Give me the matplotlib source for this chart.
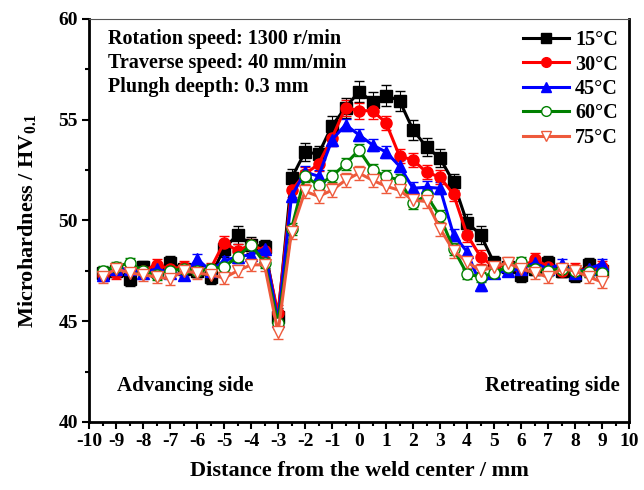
import matplotlib
matplotlib.use("Agg")
import matplotlib.pyplot as plt
from matplotlib.ticker import MultipleLocator
from matplotlib.lines import Line2D

plt.rcParams['font.family'] = ['Liberation Serif', 'DejaVu Serif']
plt.rcParams['font.weight'] = 'bold'
plt.rcParams['axes.unicode_minus'] = False
plt.rcParams['mathtext.fontset'] = 'custom'
plt.rcParams['mathtext.rm'] = 'Liberation Serif:bold'
plt.rcParams['mathtext.bf'] = 'Liberation Serif:bold'

distance = [-9.5, -9, -8.5, -8, -7.5, -7, -6.5, -6, -5.5, -5, -4.5, -4, -3.5, -3,
            -2.5, -2, -1.5, -1, -0.5, 0, 0.5, 1, 1.5, 2, 2.5, 3, 3.5, 4, 4.5,
            5, 5.5, 6, 6.5, 7, 7.5, 8, 8.5, 9]

hv_15 = [47.4, 47.5, 47.1, 47.7, 47.5, 47.9, 47.6, 47.5, 47.2, 48.6, 49.3, 48.8, 48.7, 45.2,
         52.1, 53.4, 53.3, 54.7, 55.6, 56.4, 55.9, 56.2, 55.95, 54.5, 53.65, 53.1, 51.9, 49.9, 49.3,
         47.9, 47.7, 47.3, 47.6, 47.9, 47.5, 47.3, 47.8, 47.5]
hv_30 = [47.3, 47.4, 47.6, 47.5, 47.8, 47.6, 47.7, 47.5, 47.6, 48.9, 48.5, 48.8, 48.5, 45.4,
         51.5, 52.3, 52.8, 54.1, 55.6, 55.45, 55.45, 54.85, 53.2, 53.0, 52.4, 52.15, 51.3, 49.3, 48.2,
         47.7, 47.8, 47.6, 48.1, 47.7, 47.5, 47.6, 47.5, 47.7]
hv_45 = [47.3, 47.6, 47.6, 47.4, 47.6, 47.4, 47.3, 48.1, 47.5, 48.0, 48.2, 48.3, 48.6, 45.0,
         51.2, 52.4, 52.2, 54.0, 54.75, 54.25, 53.75, 53.4, 52.7, 51.6, 51.65, 51.6, 49.3, 48.45, 46.8,
         47.4, 47.5, 47.6, 47.9, 47.6, 47.85, 47.4, 47.6, 47.85]
hv_60 = [47.5, 47.7, 47.9, 47.5, 47.3, 47.5, 47.6, 47.5, 47.6, 47.7, 48.2, 48.8, 47.9, 44.9,
         49.6, 52.2, 51.75, 52.2, 52.8, 53.5, 52.5, 52.2, 52.0, 50.85, 51.25, 50.2, 48.6, 47.35, 47.2,
         47.4, 47.7, 47.95, 47.6, 47.5, 47.6, 47.5, 47.45, 47.4]
hv_75 = [47.2, 47.6, 47.4, 47.3, 47.2, 47.1, 47.5, 47.4, 47.3, 47.15, 47.5, 47.8, 47.8, 44.45,
         49.45, 51.45, 51.2, 51.5, 52.0, 52.35, 52.0, 51.7, 51.5, 51.0, 50.95, 49.6, 48.5, 47.95, 47.5,
         47.7, 47.9, 47.6, 47.4, 47.2, 47.6, 47.5, 47.2, 46.95]

err_15 = [0.3, 0.3, 0.35, 0.3, 0.3, 0.35, 0.3, 0.3, 0.35, 0.4, 0.45, 0.4, 0.35, 0.45,
          0.45, 0.45, 0.4, 0.5, 0.5, 0.5, 0.5, 0.5, 0.5, 0.5, 0.45, 0.45, 0.4, 0.4, 0.45,
          0.35, 0.3, 0.35, 0.3, 0.35, 0.3, 0.35, 0.35, 0.3]
err_30 = [0.3, 0.3, 0.3, 0.3, 0.3, 0.3, 0.3, 0.3, 0.3, 0.35, 0.35, 0.3, 0.3, 0.4,
          0.35, 0.35, 0.35, 0.4, 0.4, 0.4, 0.4, 0.35, 0.35, 0.35, 0.35, 0.35, 0.35, 0.35, 0.35,
          0.3, 0.3, 0.3, 0.3, 0.3, 0.3, 0.3, 0.3, 0.3]
err_45 = [0.25, 0.25, 0.25, 0.25, 0.25, 0.25, 0.25, 0.25, 0.25, 0.25, 0.3, 0.25, 0.25, 0.3,
          0.3, 0.3, 0.3, 0.3, 0.3, 0.3, 0.3, 0.3, 0.3, 0.3, 0.3, 0.3, 0.3, 0.3, 0.3,
          0.25, 0.25, 0.25, 0.25, 0.25, 0.25, 0.25, 0.25, 0.25]
err_60 = [0.25, 0.25, 0.25, 0.25, 0.25, 0.25, 0.25, 0.25, 0.25, 0.25, 0.25, 0.25, 0.25, 0.3,
          0.3, 0.3, 0.3, 0.3, 0.3, 0.3, 0.3, 0.3, 0.3, 0.3, 0.3, 0.3, 0.3, 0.25, 0.25,
          0.25, 0.25, 0.25, 0.25, 0.25, 0.25, 0.25, 0.25, 0.25]
err_75 = [0.3, 0.3, 0.3, 0.3, 0.3, 0.3, 0.3, 0.3, 0.3, 0.3, 0.3, 0.3, 0.3, 0.35,
          0.35, 0.35, 0.35, 0.35, 0.35, 0.35, 0.35, 0.35, 0.35, 0.35, 0.35, 0.35, 0.35, 0.3, 0.3,
          0.3, 0.3, 0.3, 0.3, 0.3, 0.3, 0.3, 0.3, 0.3]

labels = ['15°C', '30°C', '45°C', '60°C', '75°C']
colors = ['#000000', '#ff0000', '#0000ff', '#008000', '#ee5a3c']
markers = ['s', 'o', '^', 'o', 'v']
fills = ['#000000', '#ff0000', '#0000ff', 'white', 'white']
series = [hv_15, hv_30, hv_45, hv_60, hv_75]
errors = [err_15, err_30, err_45, err_60, err_75]

fig = plt.figure(figsize=(6.44, 4.90), dpi=100)
ax = fig.add_axes([89/644, 1-422/490, 540/644, 403/490])

handles = []
for y, e, c, m, f, lab in zip(series, errors, colors, markers, fills, labels):
    ax.errorbar(distance, y, yerr=e, color=c, marker=m, markerfacecolor=f,
                markeredgecolor=c, markeredgewidth=1.0, markersize=8,
                linewidth=2.2, elinewidth=0.8, capsize=3.5, capthick=0.8)
    handles.append(Line2D([], [], color=c, marker=m, markerfacecolor=f,
                          markeredgecolor=c, markeredgewidth=1.0, markersize=7,
                          linewidth=2.2, label=lab))

ax.set_xlim(-10, 10)
ax.set_ylim(40, 60)
ax.xaxis.set_major_locator(MultipleLocator(1))
ax.xaxis.set_minor_locator(MultipleLocator(0.5))
ax.yaxis.set_major_locator(MultipleLocator(5))
ax.yaxis.set_minor_locator(MultipleLocator(2.5))
ax.tick_params(which='major', direction='out', length=5, width=1.5, labelsize=14, pad=3)
ax.tick_params(which='minor', direction='out', length=3, width=1.5)
ax.tick_params(top=False, right=False, which='both')
for lab in ax.get_xticklabels() + ax.get_yticklabels():
    lab.set_fontweight('bold')
for s in ['left', 'bottom', 'right']:
    ax.spines[s].set_linewidth(2.0)
ax.spines['top'].set_linewidth(0.8)
ax.spines['top'].set_color('#555555')

ax.set_xlabel('Distance from the weld center / mm', fontsize=16, fontweight='bold', labelpad=8)
ax.set_ylabel(r'Microhardness / HV$_{\mathbf{0.1}}$', fontsize=16, fontweight='bold', labelpad=14)

ax.text(0.035, 0.975, 'Rotation speed: 1300 r/min', transform=ax.transAxes,
        fontsize=14.5, fontweight='bold', va='top')
ax.text(0.035, 0.915, 'Traverse speed: 40 mm/min', transform=ax.transAxes,
        fontsize=14.5, fontweight='bold', va='top')
ax.text(0.035, 0.855, 'Plungh deepth: 0.3 mm', transform=ax.transAxes,
        fontsize=14.5, fontweight='bold', va='top')
ax.text(0.052, 0.09, 'Advancing side', transform=ax.transAxes,
        fontsize=15, fontweight='bold', va='center')
ax.text(0.983, 0.09, 'Retreating side', transform=ax.transAxes,
        fontsize=15, fontweight='bold', va='center', ha='right')

ax.legend(handles=handles, loc='upper right', frameon=False, fontsize=14.5,
          handlelength=2.3, handletextpad=0.3, labelspacing=0.22,
          borderaxespad=0.15, bbox_to_anchor=(1.0, 1.0))

fig.savefig('out.png', dpi=100)
